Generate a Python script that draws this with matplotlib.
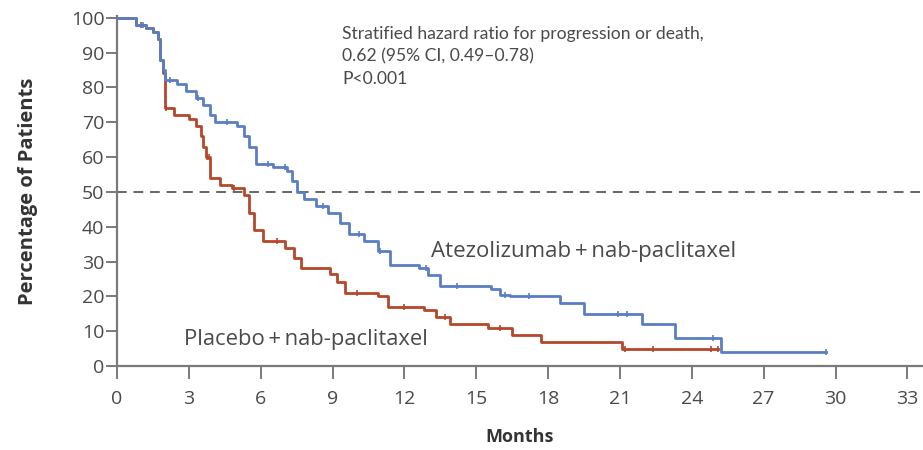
import numpy as np
import matplotlib
matplotlib.use("Agg")
import matplotlib.pyplot as plt

plt.rcParams['font.family'] = ['Open Sans', 'DejaVu Sans']

# Kaplan-Meier steps (months, % progression-free)
atezo_t = [0, 0.8, 1.2, 1.5, 1.7, 1.8, 1.9, 2.0, 2.5, 2.9, 3.3, 3.6, 3.9, 4.1,
           5.0, 5.3, 5.5, 5.8, 6.5, 7.1, 7.3, 7.5, 7.8, 8.3, 8.8, 9.3, 9.7,
           10.3, 10.9, 11.4, 12.6, 13.0, 13.5, 15.6, 16.0, 16.4, 18.5, 19.5,
           21.9, 23.3, 25.2, 29.6]
atezo_s = [100, 98, 97, 96, 94, 88, 85, 82, 81, 79, 77, 75, 72, 70,
           69, 66, 63, 58, 57, 56, 53, 50, 48, 46, 44, 41, 38,
           36, 33, 29, 28, 26, 23, 22, 20.5, 20, 18, 15,
           12, 8, 4, 4]

placebo_t = [0, 0.8, 1.2, 1.5, 1.7, 1.8, 1.9, 2.0, 2.4, 3.0, 3.3, 3.5, 3.6,
             3.7, 3.9, 4.3, 4.8, 5.3, 5.5, 5.7, 6.1, 7.0, 7.4, 7.7, 8.9, 9.2,
             9.5, 10.9, 11.3, 12.8, 13.3, 13.9, 15.5, 16.5, 17.7, 21.1, 25.1]
placebo_s = [100, 98, 97, 96, 94, 88, 84, 74, 72, 71, 69, 66, 63,
             60, 54, 52, 51, 49, 44, 39, 36, 34, 31, 28, 26.5, 24,
             21, 20, 17, 16, 14, 12, 11, 9, 7, 5, 5]

# censoring marks
atezo_cens = [1.1, 2.2, 3.4, 4.6, 6.3, 7.0, 8.6, 10.1, 11.0, 12.9, 14.2,
              16.2, 17.2, 20.9, 21.3, 24.9, 29.6]
placebo_cens = [1.0, 2.05, 3.75, 3.85, 4.9, 6.7, 10.0, 12.0, 13.7, 16.0,
                21.2, 22.4, 24.8, 25.1]

x_ticks = list(range(0, 34, 3))
y_ticks = list(range(0, 101, 10))

blue = '#5a7ec2'
red = '#b5472b'
axis_gray = '#7a7a7a'
text_gray = '#4a4a4a'


def value_at(ts, ss, t):
    i = np.searchsorted(ts, t, side='right') - 1
    return ss[max(i, 0)]


fig = plt.figure(figsize=(9.23, 4.5), dpi=100)
ax = fig.add_axes([117 / 923, 1 - 366 / 450, 1 - 117 / 923, 350 / 450])

ax.axhline(50, color='#666666', lw=1.4, ls=(0, (5, 3.5)), zorder=1)

ax.step(atezo_t, atezo_s, where='post', color=blue, lw=2.0, zorder=3)
ax.step(placebo_t, placebo_s, where='post', color=red, lw=2.0, zorder=2)

ax.plot(atezo_cens, [value_at(atezo_t, atezo_s, t) for t in atezo_cens],
        ls='none', marker='|', ms=5, mew=1.2, color=blue, zorder=3)
ax.plot(placebo_cens, [value_at(placebo_t, placebo_s, t) for t in placebo_cens],
        ls='none', marker='|', ms=5, mew=1.2, color=red, zorder=2)

ax.set_xlim(0, 806 / 23.95)
ax.set_ylim(0, 100.5)
ax.set_xticks(x_ticks)
ax.set_yticks(y_ticks)

for side in ['top', 'right']:
    ax.spines[side].set_visible(False)
for side in ['left', 'bottom']:
    ax.spines[side].set_color(axis_gray)
    ax.spines[side].set_linewidth(1.6)
ax.tick_params(axis='both', colors=axis_gray, width=1.4,
               labelcolor=text_gray, labelsize=14)
ax.tick_params(axis='y', length=8, pad=1)
ax.tick_params(axis='x', length=9, pad=8)

ax.set_xlabel('Months', fontsize=13, fontweight='bold', color='#333333',
              labelpad=15)
ax.set_ylabel('Percentage of Patients', fontsize=14.5, fontweight='bold',
              color='#333333', labelpad=24)

ax.text(9.4, 97.6, 'Stratified hazard ratio for progression or death,\n'
        '0.62 (95% CI, 0.49\u20130.78)\nP<0.001',
        fontsize=12.6, color=text_gray, va='top', ha='left', linespacing=1.47,
        family=['Lato', 'DejaVu Sans'])
ax.text(13.1, 33.0, 'Atezolizumab\u2009+\u2009nab-paclitaxel', fontsize=16,
        color=text_gray, va='center', ha='left')
ax.text(2.8, 7.6, 'Placebo\u2009+\u2009nab-paclitaxel', fontsize=15.8,
        color=text_gray, va='center', ha='left')

fig.savefig('out.png', dpi=100)
